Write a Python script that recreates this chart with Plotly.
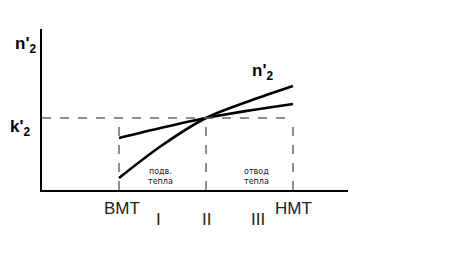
import plotly.graph_objects as go

# positions along stroke (v): ВМТ=1, middle=2, НМТ=3
v_points = [1.0, 1.5, 2.0, 2.5, 3.0]
n2_steep = [12, 45, 72, 89, 104]
n2_flat = [52, 62.5, 72, 79.5, 86]
k2_level = 72
tick_pos = [1.0, 3.0]
tick_text = ["ВМТ", "НМТ"]
zone_pos = [1.45, 2.0, 2.6]
zone_text = ["I", "II", "III"]
heat_pos = [1.48, 2.58]
heat_text = ["подв.<br>тепла", "отвод<br>тепла"]

YMAX = 161.0
X0, X1 = 0.115, 3.632

fig = go.Figure()
for ys in (n2_steep, n2_flat):
    fig.add_trace(go.Scatter(x=v_points, y=ys, mode="lines",
                             line=dict(color="black", width=2.6, shape="spline"),
                             hoverinfo="skip"))

dash = dict(color="#6a6a6a", width=1.5, dash="dash")
fig.add_shape(type="line", xref="paper", yref="y", x0=0, x1=(3 - X0) / (X1 - X0),
              y0=k2_level, y1=k2_level, line=dash)
for xv in [1.0, 2.0, 3.0]:
    fig.add_shape(type="line", xref="x", yref="y", x0=xv, x1=xv, y0=0, y1=k2_level, line=dash)


def py(px_above_axis):
    return px_above_axis / YMAX


ann = []
font_b = dict(family="Liberation Sans, Arial", size=17, color="black")
ann.append(dict(x=-0.012, y=py(158), xref="paper", yref="paper", text="<b>n'<sub>2</sub></b>",
                showarrow=False, xanchor="right", font=font_b))
ann.append(dict(x=-0.03, y=py(k2_level - 10), xref="paper", yref="paper", text="<b>k'<sub>2</sub></b>",
                showarrow=False, xanchor="right", font=font_b))
ann.append(dict(x=2.65, y=py(131), xref="x", yref="paper", text="<b>n'<sub>2</sub></b>",
                showarrow=False, font=font_b))
ann.append(dict(x=3.65, y=py(-33), xref="x", yref="paper", text="<b>v</b>", showarrow=False,
                font=dict(family="Liberation Sans, Arial", size=16, color="black")))
for p, t in zip(tick_pos, tick_text):
    ann.append(dict(x=p + (0.04 if p == 1 else 0.01), y=py(-30), xref="x", yref="paper", text=t,
                    showarrow=False, font=dict(family="Liberation Sans, Arial", size=17, color="#222")))
for p, t in zip(zone_pos, zone_text):
    ann.append(dict(x=p, y=py(-41), xref="x", yref="paper", text=t, showarrow=False,
                    font=dict(family="Liberation Sans, Arial", size=17, color="#222")))
for p, t in zip(heat_pos, heat_text):
    ann.append(dict(x=p, y=py(2), xref="x", yref="paper", text=t, showarrow=False,
                    font=dict(family="DejaVu Sans", size=8, color="#222")))

fig.update_layout(
    width=460, height=255,
    margin=dict(l=42, r=112, t=29, b=65),
    paper_bgcolor="white", plot_bgcolor="white",
    showlegend=False,
    annotations=ann,
    xaxis=dict(range=[X0, X1], showline=True, linecolor="black", linewidth=2,
               showgrid=False, zeroline=False, showticklabels=False, ticks=""),
    yaxis=dict(range=[0, YMAX], showline=True, linecolor="black", linewidth=2,
               showgrid=False, zeroline=False, showticklabels=False, ticks=""),
)
fig.write_html("out.html")
